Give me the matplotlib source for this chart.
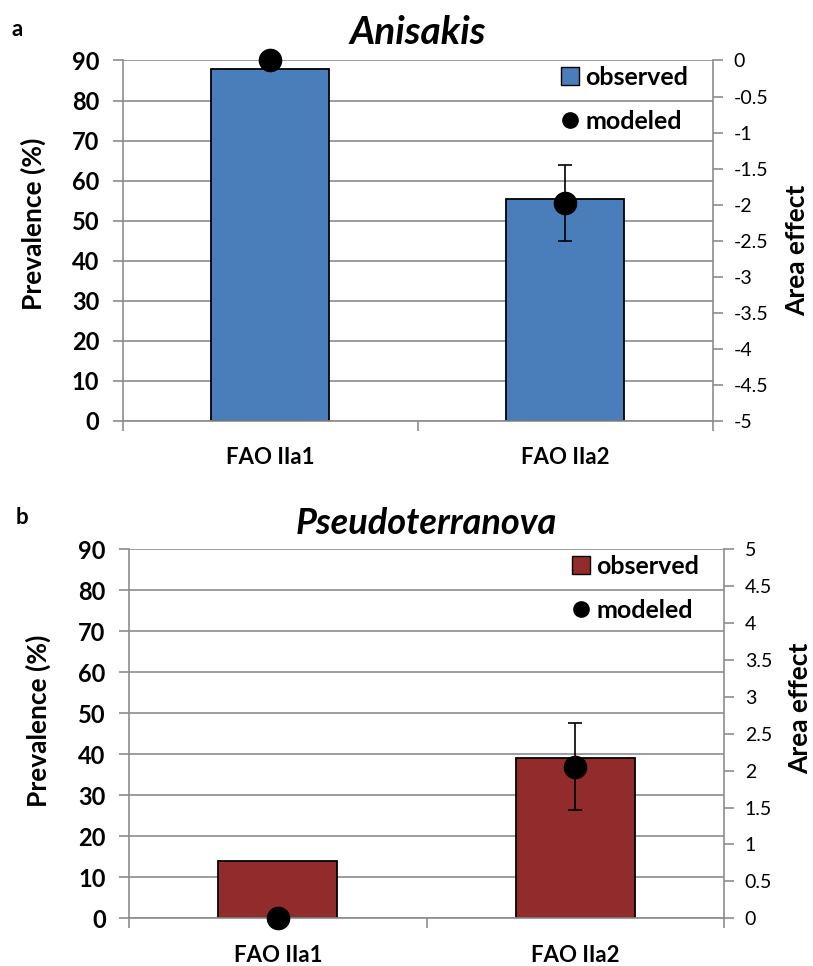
import numpy as np
import matplotlib
matplotlib.use("Agg")
import matplotlib.pyplot as plt
from matplotlib.patches import Patch
from matplotlib.lines import Line2D

plt.rcParams['font.family'] = ['Lato', 'DejaVu Sans']

categories = ["FAO IIa1", "FAO IIa2"]

# panel a - Anisakis
anisakis_observed = [87.9, 55.3]
anisakis_modeled = [0.0, -1.97]
anisakis_err_low = [None, 0.53]
anisakis_err_high = [None, 0.52]

# panel b - Pseudoterranova
pseudo_observed = [14.0, 39.2]
pseudo_modeled = [0.0, 2.05]
pseudo_err_low = [None, 0.58]
pseudo_err_high = [None, 0.59]

left_ticks = list(range(0, 91, 10))
anisakis_right_ticks = [0, -0.5, -1, -1.5, -2, -2.5, -3, -3.5, -4, -4.5, -5]
pseudo_right_ticks = [0, 0.5, 1, 1.5, 2, 2.5, 3, 3.5, 4, 4.5, 5]

GRID = "#8c8c8c"
W, H = 813, 966


def fmt(v):
    return ("%g" % v)


def px(x, y):
    # pixel position (from top-left) -> figure fraction
    return x / W, 1 - y / H


def panel(rect, title, title_size, letter, letter_xy, observed, modeled,
          err_lo, err_hi, color, right_ticks, right_lim, left_lab_xy,
          right_lab_xy, title_pad):
    ax = fig.add_axes(rect)
    x = np.arange(len(categories))
    ax.bar(x, observed, width=0.4, color=color, edgecolor="black",
           linewidth=1.3, zorder=2)
    ax.set_xlim(-0.5, len(categories) - 0.5)
    ax.set_ylim(0, 90)
    ax.set_yticks(left_ticks)
    ax.set_yticklabels([str(t) for t in left_ticks], fontsize=17,
                       fontweight="bold")
    ax.yaxis.grid(True, color=GRID, linewidth=1.2)
    ax.set_axisbelow(True)
    ax.set_xticks([-0.5, 0.5, 1.5])
    ax.set_xticklabels([])
    ax.set_xticks(x, minor=True)
    ax.set_xticklabels(categories, minor=True, fontsize=16, fontweight="bold")
    ax.tick_params(axis="x", which="major", length=7, width=1.2, color=GRID)
    ax.tick_params(axis="x", which="minor", length=0, pad=19)
    ax.tick_params(axis="y", length=7, width=1.2, color=GRID, pad=10)
    for s in ["top", "right"]:
        ax.spines[s].set_visible(False)
    for s in ["left", "bottom"]:
        ax.spines[s].set_color(GRID)
        ax.spines[s].set_linewidth(1.2)
    ax.set_title(title, fontsize=title_size, fontweight="bold",
                 fontstyle="italic", pad=title_pad)

    ax2 = ax.twinx()
    ax2.set_ylim(*right_lim)
    ax2.set_yticks(right_ticks)
    ax2.set_yticklabels([fmt(t) for t in right_ticks], fontsize=14)
    ax2.tick_params(axis="y", length=7, width=1.2, color=GRID, pad=8)
    for s in ["top", "left", "bottom"]:
        ax2.spines[s].set_visible(False)
    ax2.spines["right"].set_color(GRID)
    ax2.spines["right"].set_linewidth(1.2)
    ax2.plot(x, modeled, "o", color="black", markersize=16, clip_on=False,
             zorder=5)
    for i in range(len(categories)):
        if err_lo[i] is not None:
            ax2.errorbar(x[i], modeled[i], yerr=[[err_lo[i]], [err_hi[i]]],
                         fmt="none", ecolor="black", elinewidth=1.2,
                         capsize=5, capthick=1.2, zorder=4)

    handles = [Patch(facecolor=color, edgecolor="black", linewidth=1.0),
               Line2D([], [], marker="o", color="black", linestyle="none",
                      markersize=11)]
    ax2.legend(handles, ["observed", "modeled"], loc="upper right",
               bbox_to_anchor=(0.958, 0.985), frameon=False,
               prop={"size": 18, "weight": "bold"}, handlelength=0.7,
               handleheight=0.7, handletextpad=0.25, labelspacing=0.85,
               borderaxespad=0, borderpad=0)

    fig.text(*px(*left_lab_xy), "Prevalence (%)", fontsize=19,
             fontweight="bold", rotation=90, ha="center", va="center")
    fig.text(*px(*right_lab_xy), "Area effect", fontsize=19,
             fontweight="bold", rotation=90, ha="center", va="center")
    fig.text(*px(*letter_xy), letter, fontsize=16,
             fontweight="bold", ha="center", va="center")


fig = plt.figure(figsize=(W / 100, H / 100), dpi=100)

panel([0.1513, 0.5642, 0.7253, 0.3732], "Anisakis", 28, "a", (17, 30),
      anisakis_observed, anisakis_modeled, anisakis_err_low, anisakis_err_high,
      "#4a7ebb", anisakis_right_ticks, (-5, 0), (33, 224), (797, 250), 12)

panel([0.159, 0.0494, 0.7315, 0.382], "Pseudoterranova", 26, "b", (22, 517),
      pseudo_observed, pseudo_modeled, pseudo_err_low, pseudo_err_high,
      "#922b2b", pseudo_right_ticks, (0, 5), (38, 721), (800, 708), 11)

fig.savefig("out.png", dpi=100)
